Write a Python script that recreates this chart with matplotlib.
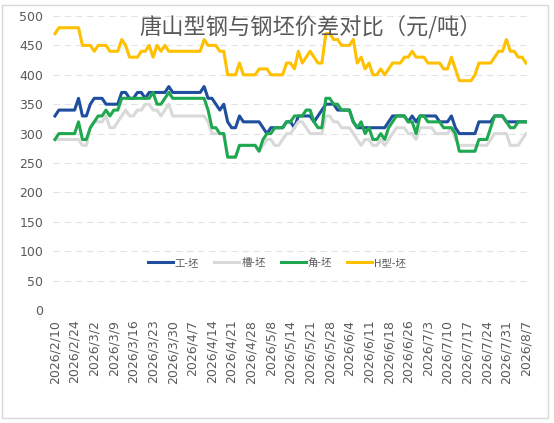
import numpy as np
import matplotlib
matplotlib.use("Agg")
import matplotlib.pyplot as plt
from matplotlib.patches import Rectangle

plt.rcParams['font.family'] = ['Noto Sans CJK SC', 'DejaVu Sans']

# x轴标签（每5个交易日一个）
tick_labels = ["2026/2/10", "2026/2/24", "2026/3/2", "2026/3/9", "2026/3/16",
               "2026/3/23", "2026/3/30", "2026/4/7", "2026/4/14", "2026/4/21",
               "2026/4/28", "2026/5/8", "2026/5/14", "2026/5/21", "2026/5/28",
               "2026/6/4", "2026/6/11", "2026/6/18", "2026/6/26", "2026/7/3",
               "2026/7/10", "2026/7/17", "2026/7/24", "2026/7/31", "2026/8/7"]

series_names = ["工-坯", "槽-坯", "角-坯", "H型-坯"]

gong = [330, 340, 340, 340, 340, 340, 360, 330, 330, 350,
        360, 360, 360, 350, 350, 350, 350, 370, 370, 360,
        360, 370, 370, 360, 370, 370, 370, 370, 370, 380,
        370, 370, 370, 370, 370, 370, 370, 370, 380, 360,
        360, 350, 340, 350, 320, 310, 310, 330, 320, 320,
        320, 320, 320, 310, 300, 310, 310, 310, 310, 320,
        320, 310, 330, 330, 330, 330, 320, 330, 340, 350,
        350, 350, 340, 340, 340, 340, 320, 310, 310, 310,
        310, 310, 310, 310, 310, 320, 330, 330, 330, 330,
        320, 330, 320, 330, 330, 330, 330, 330, 320, 320,
        320, 330, 310, 300, 300, 300, 300, 300, 320, 320,
        320, 320, 330, 330, 330, 320, 320, 320, 320, 320,
        320]

cao = [290, 290, 290, 290, 290, 290, 290, 280, 280, 310,
       320, 320, 320, 330, 310, 310, 320, 330, 340, 330,
       330, 340, 340, 350, 350, 340, 340, 330, 340, 350,
       330, 330, 330, 330, 330, 330, 330, 330, 330, 320,
       300, 300, 300, 300, 260, 260, 260, 280, 280, 280,
       280, 280, 270, 280, 290, 290, 280, 280, 290, 300,
       300, 310, 320, 320, 310, 300, 300, 300, 300, 330,
       330, 320, 320, 310, 310, 310, 300, 290, 280, 290,
       290, 280, 280, 290, 280, 290, 300, 310, 310, 310,
       300, 300, 290, 310, 310, 310, 310, 300, 300, 300,
       300, 310, 290, 280, 280, 280, 280, 280, 280, 280,
       280, 290, 300, 300, 300, 300, 280, 280, 280, 290,
       300]

jiao = [290, 300, 300, 300, 300, 300, 320, 290, 290, 310,
        320, 330, 330, 340, 330, 340, 340, 360, 360, 360,
        360, 360, 360, 360, 360, 370, 350, 350, 360, 370,
        360, 360, 360, 360, 360, 360, 360, 360, 360, 340,
        310, 310, 300, 300, 260, 260, 260, 280, 280, 280,
        280, 280, 270, 290, 300, 300, 310, 310, 310, 320,
        320, 330, 330, 330, 340, 340, 320, 310, 310, 360,
        360, 350, 350, 340, 340, 340, 320, 310, 320, 300,
        310, 290, 290, 300, 290, 310, 320, 330, 330, 330,
        320, 320, 300, 330, 330, 320, 320, 320, 320, 310,
        310, 310, 300, 270, 270, 270, 270, 270, 290, 290,
        290, 310, 330, 330, 330, 320, 310, 310, 320, 320,
        320]

h_type = [470, 480, 480, 480, 480, 480, 480, 450, 450, 450,
          440, 450, 450, 450, 440, 440, 440, 460, 450, 430,
          430, 430, 440, 440, 450, 430, 450, 440, 450, 440,
          440, 440, 440, 440, 440, 440, 440, 440, 460, 450,
          450, 450, 440, 440, 400, 400, 400, 420, 400, 400,
          400, 400, 410, 410, 410, 400, 400, 400, 400, 420,
          420, 410, 440, 420, 430, 440, 430, 420, 420, 470,
          470, 460, 460, 450, 450, 450, 460, 420, 430, 410,
          420, 400, 400, 410, 400, 410, 420, 420, 420, 430,
          430, 440, 430, 430, 430, 420, 420, 420, 420, 410,
          410, 430, 410, 390, 390, 390, 390, 400, 420, 420,
          420, 420, 430, 440, 440, 460, 440, 440, 430, 430,
          420]

colors = ["#1F4E9E", "#D9D9D9", "#1FA84F", "#FFC000"]
text_color = "#595959"

W, H = 554, 423
fig = plt.figure(figsize=(W / 100, H / 100), dpi=100)
ax = fig.add_axes([53 / W, (H - 310) / H, (527 - 53) / W, (310 - 16) / H])

x = np.arange(len(gong))
for vals, name, c in zip([gong, cao, jiao, h_type], series_names, colors):
    ax.plot(x, vals, color=c, lw=2.2, label=name, solid_joinstyle='round')

ax.set_xlim(-0.5, 120.25)
ax.set_ylim(0, 500)
ax.set_yticks(range(0, 501, 50))
ax.set_xticks(range(0, len(gong), 5))
ax.set_xticklabels(tick_labels, rotation=90, family='DejaVu Sans')
for lab in ax.get_yticklabels():
    lab.set_family('DejaVu Sans')
ax.tick_params(axis='both', length=0, labelsize=9, labelcolor=text_color)
ax.tick_params(axis='x', pad=7)
ax.tick_params(axis='y', pad=7)
for s in ax.spines.values():
    s.set_visible(False)
ax.grid(axis='y', color='#E3E3E3', lw=0.8, linestyle=(0, (6, 4)))
ax.set_axisbelow(True)

fig.text(311 / W, 1 - 27 / H, "唐山型钢与钢坯价差对比（元/吨）", ha='center', va='center',
         fontsize=16, color=text_color)

leg = fig.legend(loc='center', bbox_to_anchor=(277 / W, 1 - 263 / H), ncol=4, frameon=False,
                 fontsize=7.5, handlelength=2.4, handletextpad=0.2, columnspacing=1.45)
for t in leg.get_texts():
    t.set_color(text_color)

fig.patches.append(Rectangle((2 / W, 5 / H), 546 / W, 413 / H, transform=fig.transFigure,
                             fill=False, ec='#D9D9D9', lw=1))

fig.savefig("out.png", dpi=100)
